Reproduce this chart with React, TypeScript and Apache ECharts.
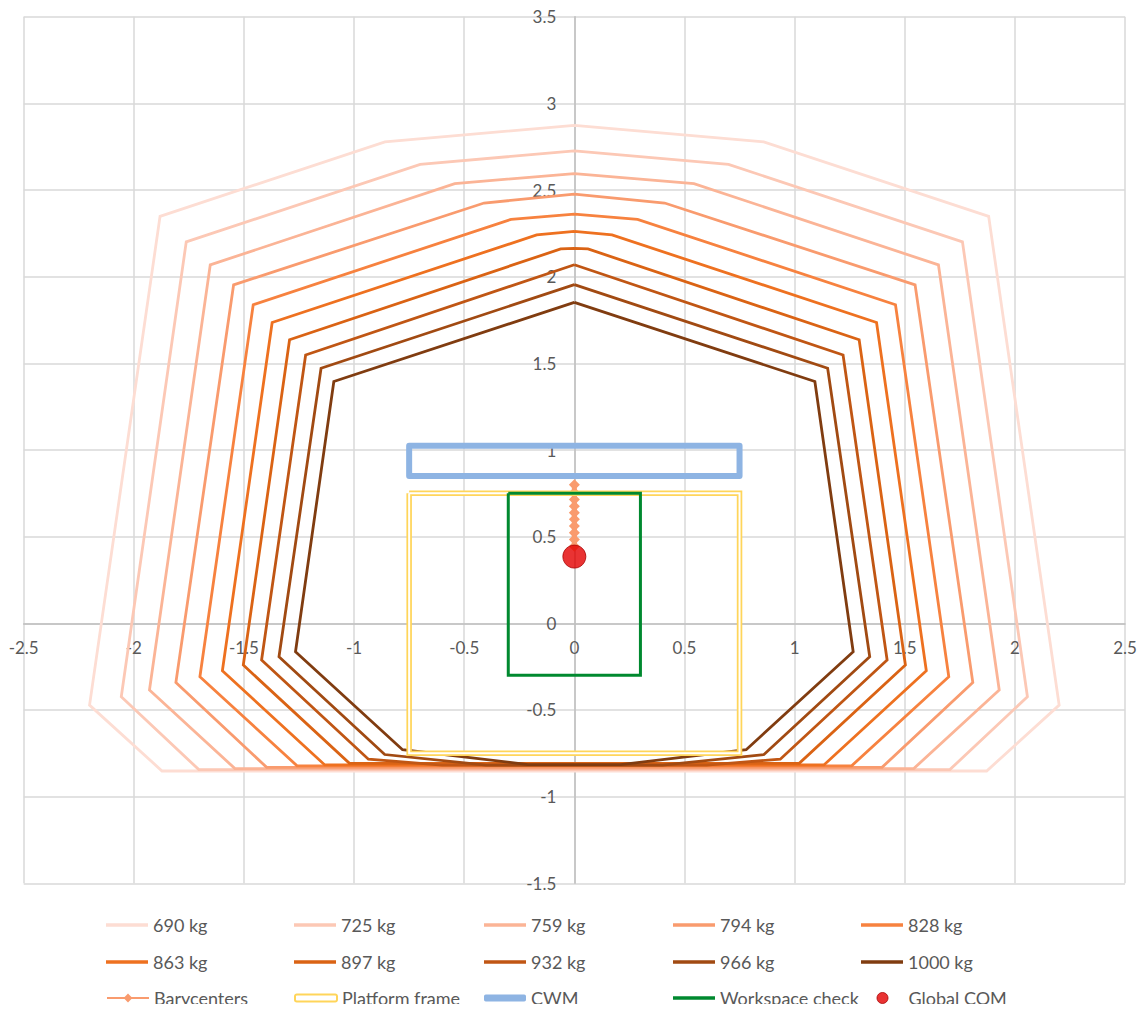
import React, { useEffect, useRef } from "react";
import * as echarts from "echarts";

// ---- Data ----
const massLabels = ["690 kg", "725 kg", "759 kg", "794 kg", "828 kg", "863 kg", "897 kg", "932 kg", "966 kg", "1000 kg"];
const massColors = ["#FDDDD3", "#FCC8B5", "#FBB496", "#F99B6E", "#F7823F", "#EE7120", "#DA6314", "#C05614", "#A14A12", "#803C10"];

const poly690 = [[0, 2.873], [0.86, 2.778], [1.881, 2.348], [2.201, -0.472], [1.872, -0.852], [-1.872, -0.852], [-2.201, -0.472], [-1.881, 2.348], [-0.86, 2.778], [0, 2.873]];
const poly725 = [[0, 2.726], [0.7, 2.648], [1.762, 2.201], [2.057, -0.424], [1.705, -0.844], [-1.705, -0.844], [-2.057, -0.424], [-1.762, 2.201], [-0.7, 2.648], [0, 2.726]];
const poly759 = [[0, 2.595], [0.543, 2.537], [1.653, 2.068], [1.929, -0.385], [1.541, -0.838], [-1.541, -0.838], [-1.929, -0.385], [-1.653, 2.068], [-0.543, 2.537], [0, 2.595]];
const poly794 = [[0, 2.476], [0.41, 2.425], [1.547, 1.953], [1.809, -0.341], [1.397, -0.831], [-1.397, -0.831], [-1.809, -0.341], [-1.547, 1.953], [-0.41, 2.425], [0, 2.476]];
const poly828 = [[0, 2.361], [0.287, 2.331], [1.458, 1.838], [1.7, -0.308], [1.259, -0.822], [-1.259, -0.822], [-1.7, -0.308], [-1.458, 1.838], [-0.287, 2.331], [0, 2.361]];
const poly863 = [[0, 2.261], [0.171, 2.241], [1.372, 1.736], [1.598, -0.274], [1.133, -0.817], [-1.133, -0.817], [-1.598, -0.274], [-1.372, 1.736], [-0.171, 2.241], [0, 2.261]];
const poly897 = [[0, 2.163], [0.062, 2.16], [1.293, 1.636], [1.503, -0.241], [1.021, -0.808], [-1.021, -0.808], [-1.503, -0.241], [-1.293, 1.636], [-0.062, 2.16], [0, 2.163]];
const poly932 = [[0, 2.069], [1.22, 1.548], [1.42, -0.212], [0.935, -0.784], [0.6, -0.818], [-0.6, -0.818], [-0.935, -0.784], [-1.42, -0.212], [-1.22, 1.548], [0, 2.069]];
const poly966 = [[0, 1.954], [1.15, 1.472], [1.341, -0.193], [0.861, -0.757], [0.4, -0.818], [-0.4, -0.818], [-0.861, -0.757], [-1.341, -0.193], [-1.15, 1.472], [0, 1.954]];
const poly1000 = [[0, 1.852], [1.092, 1.395], [1.266, -0.164], [0.78, -0.729], [0.21, -0.815], [-0.21, -0.815], [-0.78, -0.729], [-1.266, -0.164], [-1.092, 1.395], [0, 1.852]];
const polygons = [poly690, poly725, poly759, poly794, poly828, poly863, poly897, poly932, poly966, poly1000];

const baryX = [0, 0, 0, 0, 0, 0, 0, 0, 0, 0];
const baryY = [0.8, 0.755, 0.715, 0.676, 0.638, 0.6, 0.561, 0.522, 0.484, 0.445];

const platformX = [-0.75, 0.75, 0.75, -0.75, -0.75];
const platformY = [0.75, 0.75, -0.75, -0.75, 0.75];

const cwmX = [-0.75, 0.75, 0.75, -0.75, -0.75];
const cwmY = [1.025, 1.025, 0.85, 0.85, 1.025];

const workX = [-0.3, 0.3, 0.3, -0.3, -0.3];
const workY = [0.75, 0.75, -0.3, -0.3, 0.75];

const comX = [0];
const comY = [0.385];

const xTicks = { min: -2.5, max: 2.5, step: 0.5 };
const yTicks = { min: -1.5, max: 3.5, step: 0.5 };

const zip = (xs: number[], ys: number[]) => xs.map((x, i) => [x, ys[i]]);

const FONT = "Lato";
const TXT = "#595959";

export default function App() {
  const ref = useRef<HTMLDivElement>(null);
  useEffect(() => {
    const chart = echarts.init(ref.current!, null, { renderer: "svg" });

    const series: any[] = polygons.map((p, i) => ({
      name: massLabels[i],
      type: "line",
      data: p,
      symbol: "none",
      smooth: false,
      lineStyle: { color: massColors[i], width: 2.8, join: "miter" },
      itemStyle: { color: massColors[i] },
      z: 2,
    }));
    series.push({
      name: "Barycenters",
      type: "line",
      data: zip(baryX, baryY),
      symbol: "diamond",
      symbolSize: 11,
      showSymbol: true,
      lineStyle: { color: "#F99B6E", width: 5 },
      itemStyle: { color: "#F99B6E" },
      z: 3,
    });
    series.push({
      name: "Platform frame",
      type: "line",
      data: zip(platformX, platformY),
      symbol: "none",
      lineStyle: { color: "#FFD55A", width: 5.5, join: "miter" },
      itemStyle: { color: "#FFD55A" },
      z: 4,
    });
    series.push({
      name: "Platform frame (inner)",
      type: "line",
      data: zip(platformX, platformY),
      symbol: "none",
      lineStyle: { color: "#FFFFFF", width: 2, join: "miter" },
      itemStyle: { color: "#FFFFFF" },
      z: 4,
    });
    series.push({
      name: "CWM",
      type: "line",
      data: zip(cwmX, cwmY),
      symbol: "none",
      lineStyle: { color: "#8EB4E3", width: 6, join: "round", cap: "round" },
      itemStyle: { color: "#8EB4E3" },
      z: 5,
    });
    series.push({
      name: "Workspace check",
      type: "line",
      data: zip(workX, workY),
      symbol: "none",
      lineStyle: { color: "#00892F", width: 3, join: "miter" },
      itemStyle: { color: "#00892F" },
      z: 6,
    });
    series.push({
      name: "Global COM",
      type: "scatter",
      data: zip(comX, comY),
      symbol: "circle",
      symbolSize: 23,
      itemStyle: { color: "#E30000", borderColor: "#A80000", borderWidth: 1 },
      z: 7,
    });

    const colLeft = [98, 286, 476, 665, 853];
    const rowTop = [915, 952, 988];
    const ICON_W = 42;
    const legends: any[] = [];
    const mk = (name: string, col: number, row: number, icon: any, h: number, itemStyle?: any, shift = 0) => {
      const d: any = { name };
      if (icon) d.icon = icon;
      if (itemStyle) d.itemStyle = itemStyle;
      legends.push({
        data: [d],
        left: colLeft[col] + shift,
        top: rowTop[row],
        padding: 0,
        itemWidth: ICON_W,
        itemHeight: h,
        selectedMode: false,
        textStyle: { fontFamily: FONT, fontSize: 18, color: TXT, lineHeight: 20 },
      });
    };
    massLabels.forEach((m, i) => {
      mk(m, i % 5, Math.floor(i / 5), "rect", 3.5, { color: massColors[i] });
    });
    mk("Barycenters", 0, 2, null, 11);
    mk("Platform frame", 1, 2, "roundRect", 7, { color: "#FFFFFF", borderColor: "#FFD55A", borderWidth: 2 });
    mk("CWM", 2, 2, "roundRect", 7, { color: "#8EB4E3", borderWidth: 0 });
    mk("Workspace check", 3, 2, "rect", 3.5, { color: "#00892F" });
    // circle icon's bounding box starts at (itemWidth - itemHeight)/2, compensate so the text column aligns
    mk("Global COM", 4, 2, "circle", 11, { color: "#E30000", borderColor: "#A80000", borderWidth: 1 }, (ICON_W - 11) / 2);

    const gridLeft = 15.7, gridTop = 16.7, gridW = 1101.3, gridH = 866.6;
    // axes cross at the origin (Excel style): shift each axis from its grid edge to the zero position
    const xAxisOffset = -gridH * (0 - yTicks.min) / (yTicks.max - yTicks.min);
    const yAxisOffset = -gridW * (0 - xTicks.min) / (xTicks.max - xTicks.min);

    const axisCommon = {
      type: "value",
      axisTick: { show: false },
      axisLine: { show: true, onZero: false, lineStyle: { color: "#BFBFBF", width: 1.5 } },
      splitLine: { show: true, lineStyle: { color: "#D9D9D9", width: 1.5 } },
    };

    chart.setOption({
      animation: false,
      backgroundColor: "#FFFFFF",
      grid: { left: gridLeft, top: gridTop, width: gridW, height: gridH, containLabel: false, outerBoundsMode: "none" },
      xAxis: {
        ...axisCommon,
        position: "bottom",
        offset: xAxisOffset,
        min: xTicks.min,
        max: xTicks.max,
        interval: xTicks.step,
        axisLabel: { fontFamily: FONT, fontSize: 17, color: TXT, margin: 16, showMinLabel: true, showMaxLabel: true },
      },
      yAxis: {
        ...axisCommon,
        position: "left",
        offset: yAxisOffset,
        min: yTicks.min,
        max: yTicks.max,
        interval: yTicks.step,
        axisLabel: { fontFamily: FONT, fontSize: 17, lineHeight: 14, color: TXT, margin: 18, showMinLabel: true, showMaxLabel: true },
      },
      legend: legends,
      series,
    });
    return () => chart.dispose();
  }, []);
  return <div ref={ref} style={{ width: 1129, height: 1012, marginTop: -8, marginBottom: -8 }} />;
}
